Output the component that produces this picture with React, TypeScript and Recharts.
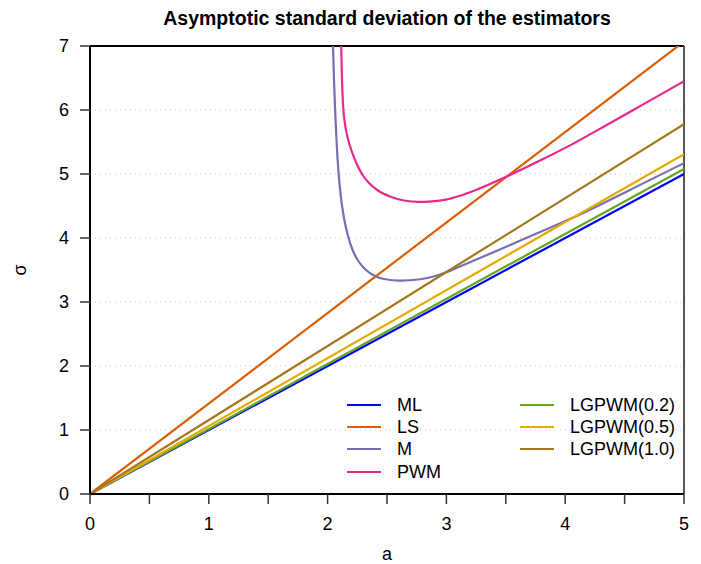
import React from 'react';
import { LineChart, Line, XAxis, YAxis, ReferenceLine } from 'recharts';

const FONT = '"Liberation Sans", Arial, Helvetica, sans-serif';

// axis ticks
const xTicks = [0, 0.5, 1, 1.5, 2, 2.5, 3, 3.5, 4, 4.5, 5];
const yTicks = [0, 1, 2, 3, 4, 5, 6, 7];
const gridLevels = [1, 2, 3, 4, 5, 6];

// asymptotic standard deviation (sigma) as a function of a
const mlData = [
  { a: 0, s: 0 },
  { a: 5, s: 5.0 },
];
const lsData = [
  { a: 0, s: 0 },
  { a: 5, s: 7.07 },
];
const mData = [
  { a: 2.0396, s: 7.4 },
  { a: 2.0455, s: 7.016 },
  { a: 2.0539, s: 6.469 },
  { a: 2.0623, s: 6.047 },
  { a: 2.0749, s: 5.531 },
  { a: 2.0918, s: 5.031 },
  { a: 2.1128, s: 4.625 },
  { a: 2.138, s: 4.313 },
  { a: 2.1717, s: 4.031 },
  { a: 2.2138, s: 3.797 },
  { a: 2.2643, s: 3.625 },
  { a: 2.3232, s: 3.5 },
  { a: 2.3906, s: 3.414 },
  { a: 2.4747, s: 3.359 },
  { a: 2.6094, s: 3.333 },
  { a: 2.78, s: 3.355 },
  { a: 2.946, s: 3.43 },
  { a: 3.114, s: 3.555 },
  { a: 3.367, s: 3.755 },
  { a: 3.647, s: 3.98 },
  { a: 3.872, s: 4.16 },
  { a: 4.068, s: 4.32 },
  { a: 4.349, s: 4.57 },
  { a: 4.63, s: 4.83 },
  { a: 5.0, s: 5.17 },
];
const pwmData = [
  { a: 2.109, s: 7.4 },
  { a: 2.1145, s: 7.016 },
  { a: 2.1212, s: 6.469 },
  { a: 2.1313, s: 6.047 },
  { a: 2.1465, s: 5.781 },
  { a: 2.1717, s: 5.547 },
  { a: 2.2054, s: 5.344 },
  { a: 2.2475, s: 5.148 },
  { a: 2.2896, s: 5.0 },
  { a: 2.3485, s: 4.859 },
  { a: 2.4242, s: 4.742 },
  { a: 2.5253, s: 4.648 },
  { a: 2.6431, s: 4.586 },
  { a: 2.7609, s: 4.563 },
  { a: 2.8788, s: 4.572 },
  { a: 2.9966, s: 4.6 },
  { a: 3.114, s: 4.66 },
  { a: 3.227, s: 4.735 },
  { a: 3.507, s: 4.96 },
  { a: 3.788, s: 5.21 },
  { a: 4.068, s: 5.475 },
  { a: 4.349, s: 5.765 },
  { a: 4.63, s: 6.06 },
  { a: 4.82, s: 6.26 },
  { a: 5.0, s: 6.45 },
];
const lg02Data = [
  { a: 0, s: 0 },
  { a: 5, s: 5.08 },
];
const lg05Data = [
  { a: 0, s: 0 },
  { a: 5, s: 5.31 },
];
const lg10Data = [
  { a: 0, s: 0 },
  { a: 5, s: 5.78 },
];

const series = [
  { name: 'ML', color: '#0000FF', data: mlData, curve: 'linear' },
  { name: 'LS', color: '#D95F02', data: lsData, curve: 'linear' },
  { name: 'M', color: '#7570B3', data: mData, curve: 'monotone' },
  { name: 'PWM', color: '#E7298A', data: pwmData, curve: 'monotone' },
  { name: 'LGPWM(0.2)', color: '#66A61E', data: lg02Data, curve: 'linear' },
  { name: 'LGPWM(0.5)', color: '#E6AB02', data: lg05Data, curve: 'linear' },
  { name: 'LGPWM(1.0)', color: '#A6761D', data: lg10Data, curve: 'linear' },
];

const LegendBox = () => {
  const rows = [405, 427, 449, 472];
  return (
    <>
      {series.map((s, i) => {
        const col = i < 4 ? 0 : 1;
        const row = i < 4 ? i : i - 4;
        const lineX = col === 0 ? 347 : 520;
        const textX = col === 0 ? 397 : 570;
        const y = rows[row];
        return (
          <React.Fragment key={s.name}>
            <div
              style={{
                position: 'absolute',
                left: lineX,
                top: y - 1,
                width: 34,
                height: 2,
                background: s.color,
              }}
            />
            <div
              style={{
                position: 'absolute',
                left: textX,
                top: y - 10,
                height: 20,
                lineHeight: '20px',
                fontSize: 18,
                fontFamily: FONT,
                color: '#000',
                whiteSpace: 'nowrap',
              }}
            >
              {s.name}
            </div>
          </React.Fragment>
        );
      })}
    </>
  );
};

export default function App() {
  return (
    <div style={{ position: 'absolute', left: 0, top: 0, width: 701, height: 564, background: '#fff' }}>
      <LineChart
        width={701}
        height={564}
        margin={{ top: 46, right: 17, bottom: 0, left: 0 }}
      >
        {gridLevels.map((g) => (
          <ReferenceLine key={g} y={g} stroke="#c4c4c4" strokeDasharray="1 4" strokeWidth={1} />
        ))}
        <XAxis
          dataKey="a"
          type="number"
          domain={[0, 5]}
          ticks={xTicks}
          allowDataOverflow
          height={70}
          tickSize={10}
          tickMargin={13}
          interval={0}
          tickFormatter={(v: number) => (Number.isInteger(v) ? String(v) : '')}
          tick={{ fill: '#000', fontSize: 18, fontFamily: FONT }}
          stroke="#000"
          axisLine={{ stroke: '#000', strokeWidth: 2 }}
          tickLine={{ stroke: '#333', strokeWidth: 1.5 }}
          label={{ value: 'a', position: 'insideBottom', offset: 4, fill: '#000', fontSize: 18, fontFamily: FONT }}
        />
        <YAxis
          dataKey="s"
          type="number"
          domain={[0, 7]}
          ticks={yTicks}
          allowDataOverflow
          width={90}
          tickSize={10}
          tickMargin={11}
          interval={0}
          tick={{ fill: '#000', fontSize: 18, fontFamily: FONT }}
          axisLine={{ stroke: '#000', strokeWidth: 2 }}
          tickLine={{ stroke: '#333', strokeWidth: 1.5 }}
        />
        <ReferenceLine y={7} stroke="#000" strokeWidth={2} ifOverflow="visible" />
        <ReferenceLine x={5} stroke="#555" strokeWidth={2} ifOverflow="visible" />
        {series.map((s) => (
          <Line
            key={s.name}
            data={s.data}
            dataKey="s"
            name={s.name}
            type={s.curve as any}
            stroke={s.color}
            strokeWidth={2.2}
            dot={false}
            activeDot={false}
            isAnimationActive={false}
          />
        ))}
      </LineChart>
      <div
        style={{
          position: 'absolute',
          left: 90,
          width: 594,
          top: 6,
          textAlign: 'center',
          fontFamily: FONT,
          fontWeight: 'bold',
          fontSize: 19.5,
          lineHeight: '24px',
          color: '#000',
          whiteSpace: 'nowrap',
        }}
      >
        Asymptotic standard deviation of the estimators
      </div>
      <div
        style={{
          position: 'absolute',
          left: 20,
          top: 270,
          transform: 'translate(-50%, -50%) rotate(-90deg)',
          fontFamily: FONT,
          fontSize: 18,
          lineHeight: '20px',
          color: '#000',
        }}
      >
        σ
      </div>
      <LegendBox />
    </div>
  );
}
